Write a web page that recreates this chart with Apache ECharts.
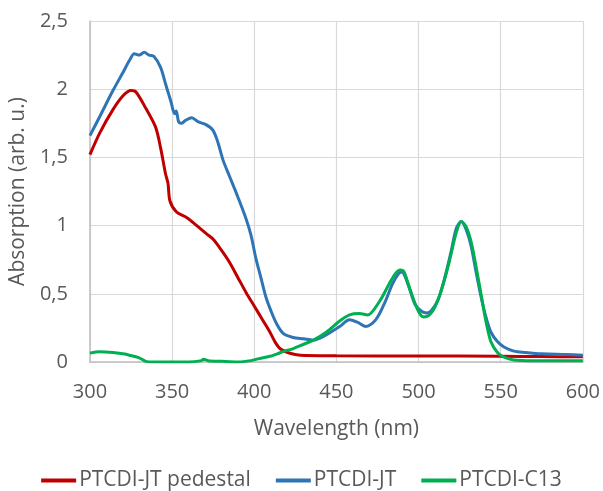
<!DOCTYPE html>
<html><head><meta charset="utf-8">
<script src="https://cdn.jsdelivr.net/npm/echarts@6/dist/echarts.min.js"></script>
<style>html,body{margin:0;padding:0;background:#fff}#c{width:603px;height:491px}</style>
</head><body><div id="c"></div>
<script>
const seriesNames = ['PTCDI-JT pedestal', 'PTCDI-JT', 'PTCDI-C13'];
const xTicks = [300, 350, 400, 450, 500, 550, 600];
const yTicks = [0, 0.5, 1, 1.5, 2, 2.5];

const pedestalX = [300,306,314,320,325,328,334,340,343,346,347.5,348.7,352.7,358.8,363,367,371,375,380,385,390,395,400,405,409.5,413,416,421.7,428,450,500,550,575,600];
const pedestalY = [1.52,1.68,1.85,1.95,1.99,1.98,1.86,1.72,1.57,1.38,1.31,1.18,1.10,1.06,1.02,0.98,0.94,0.90,0.82,0.73,0.62,0.51,0.41,0.31,0.22,0.14,0.095,0.064,0.05,0.046,0.044,0.042,0.04,0.038];

const jtX = [300,306,314,320,324,327,330,333,336,339,343,346,348,349.5,350.5,351.6,352.5,354,355.7,358,362,366,370.6,374.8,377.9,381,385,390,395,398,401,404,407,410,413.6,417.6,423.6,430,436,440,444,452,458,463,468,474,480,484,488,490,492,495,498,502,505,508,512,516,520,523,526,529,532,535,538,541,544,548,552,558,565,575,590,600];
const jtY = [1.66,1.80,1.99,2.12,2.21,2.26,2.25,2.27,2.25,2.24,2.16,2.04,1.96,1.90,1.85,1.82,1.84,1.76,1.75,1.77,1.79,1.76,1.74,1.70,1.61,1.48,1.36,1.21,1.05,0.93,0.76,0.62,0.48,0.38,0.28,0.21,0.18,0.17,0.16,0.175,0.20,0.26,0.31,0.29,0.26,0.31,0.45,0.57,0.65,0.66,0.62,0.52,0.42,0.37,0.36,0.38,0.46,0.62,0.82,0.98,1.03,0.97,0.85,0.66,0.48,0.33,0.22,0.15,0.11,0.08,0.07,0.06,0.055,0.05];

const c13X = [300,306,314,320,324,330,334,338,345,360,368,369,372,380,390,398,403,409,414,418,423,428,436,444,452,458,464,469,476,482,486,489,491,493,496,500,503,507,511,515,519,523,526,529,532,535,538,541,544,548,552,558,570,600];
const c13Y = [0.065,0.075,0.07,0.06,0.05,0.03,0.005,0,0,0,0.01,0.02,0.01,0.005,0,0.01,0.025,0.04,0.06,0.078,0.095,0.12,0.16,0.22,0.30,0.345,0.355,0.345,0.44,0.57,0.65,0.675,0.665,0.6,0.49,0.37,0.33,0.35,0.43,0.57,0.75,0.95,1.03,0.99,0.88,0.7,0.5,0.3,0.15,0.07,0.035,0.015,0.01,0.01];

const colors = ['#C00000', '#2E75B6', '#00B050'];
const pair = (xs, ys) => xs.map((x, i) => [x, ys[i]]);
const font = 'Open Sans';
const txt = '#595959';

const chart = echarts.init(document.getElementById('c'));
chart.setOption({
  animation: false,
  color: colors,
  grid: { left: 89, right: 20, top: 21, bottom: 129 },
  xAxis: {
    type: 'value', min: 300, max: 600, interval: 50,
    name: 'Wavelength (nm)', nameLocation: 'middle', nameGap: 57,
    nameTextStyle: { fontFamily: font, fontSize: 21, color: txt },
    axisLine: { show: true, lineStyle: { color: '#bfbfbf', width: 1.5 } },
    axisTick: { show: false },
    axisLabel: { fontFamily: font, fontSize: 20, color: txt, margin: 20 },
    splitLine: { show: true, lineStyle: { color: '#d9d9d9', width: 1.2 } }
  },
  yAxis: {
    type: 'value', min: 0, max: 2.5, interval: 0.5,
    name: 'Absorption (arb. u.)', nameLocation: 'middle', nameGap: 56,
    nameTextStyle: { fontFamily: font, fontSize: 21, color: txt },
    axisLine: { show: true, lineStyle: { color: '#bfbfbf', width: 1.5 } },
    axisTick: { show: false },
    axisLabel: { fontFamily: font, fontSize: 20, color: txt, margin: 22,
      formatter: v => String(v).replace('.', ',') },
    splitLine: { show: true, lineStyle: { color: '#d9d9d9', width: 1.2 } }
  },
  legend: {
    top: 465, left: 'center', itemGap: 25, itemWidth: 35, itemHeight: 4,
    icon: 'rect',
    textStyle: { fontFamily: font, fontSize: 21, color: txt, padding: [0, 0, 0, -2] },
    data: seriesNames
  },
  series: [
    { name: seriesNames[0], type: 'line', data: pair(pedestalX, pedestalY), showSymbol: false, smooth: 0.3, lineStyle: { width: 3 } },
    { name: seriesNames[1], type: 'line', data: pair(jtX, jtY), showSymbol: false, smooth: 0.3, lineStyle: { width: 3 } },
    { name: seriesNames[2], type: 'line', data: pair(c13X, c13Y), showSymbol: false, smooth: 0.3, lineStyle: { width: 3 } }
  ]
});
</script></body></html>
